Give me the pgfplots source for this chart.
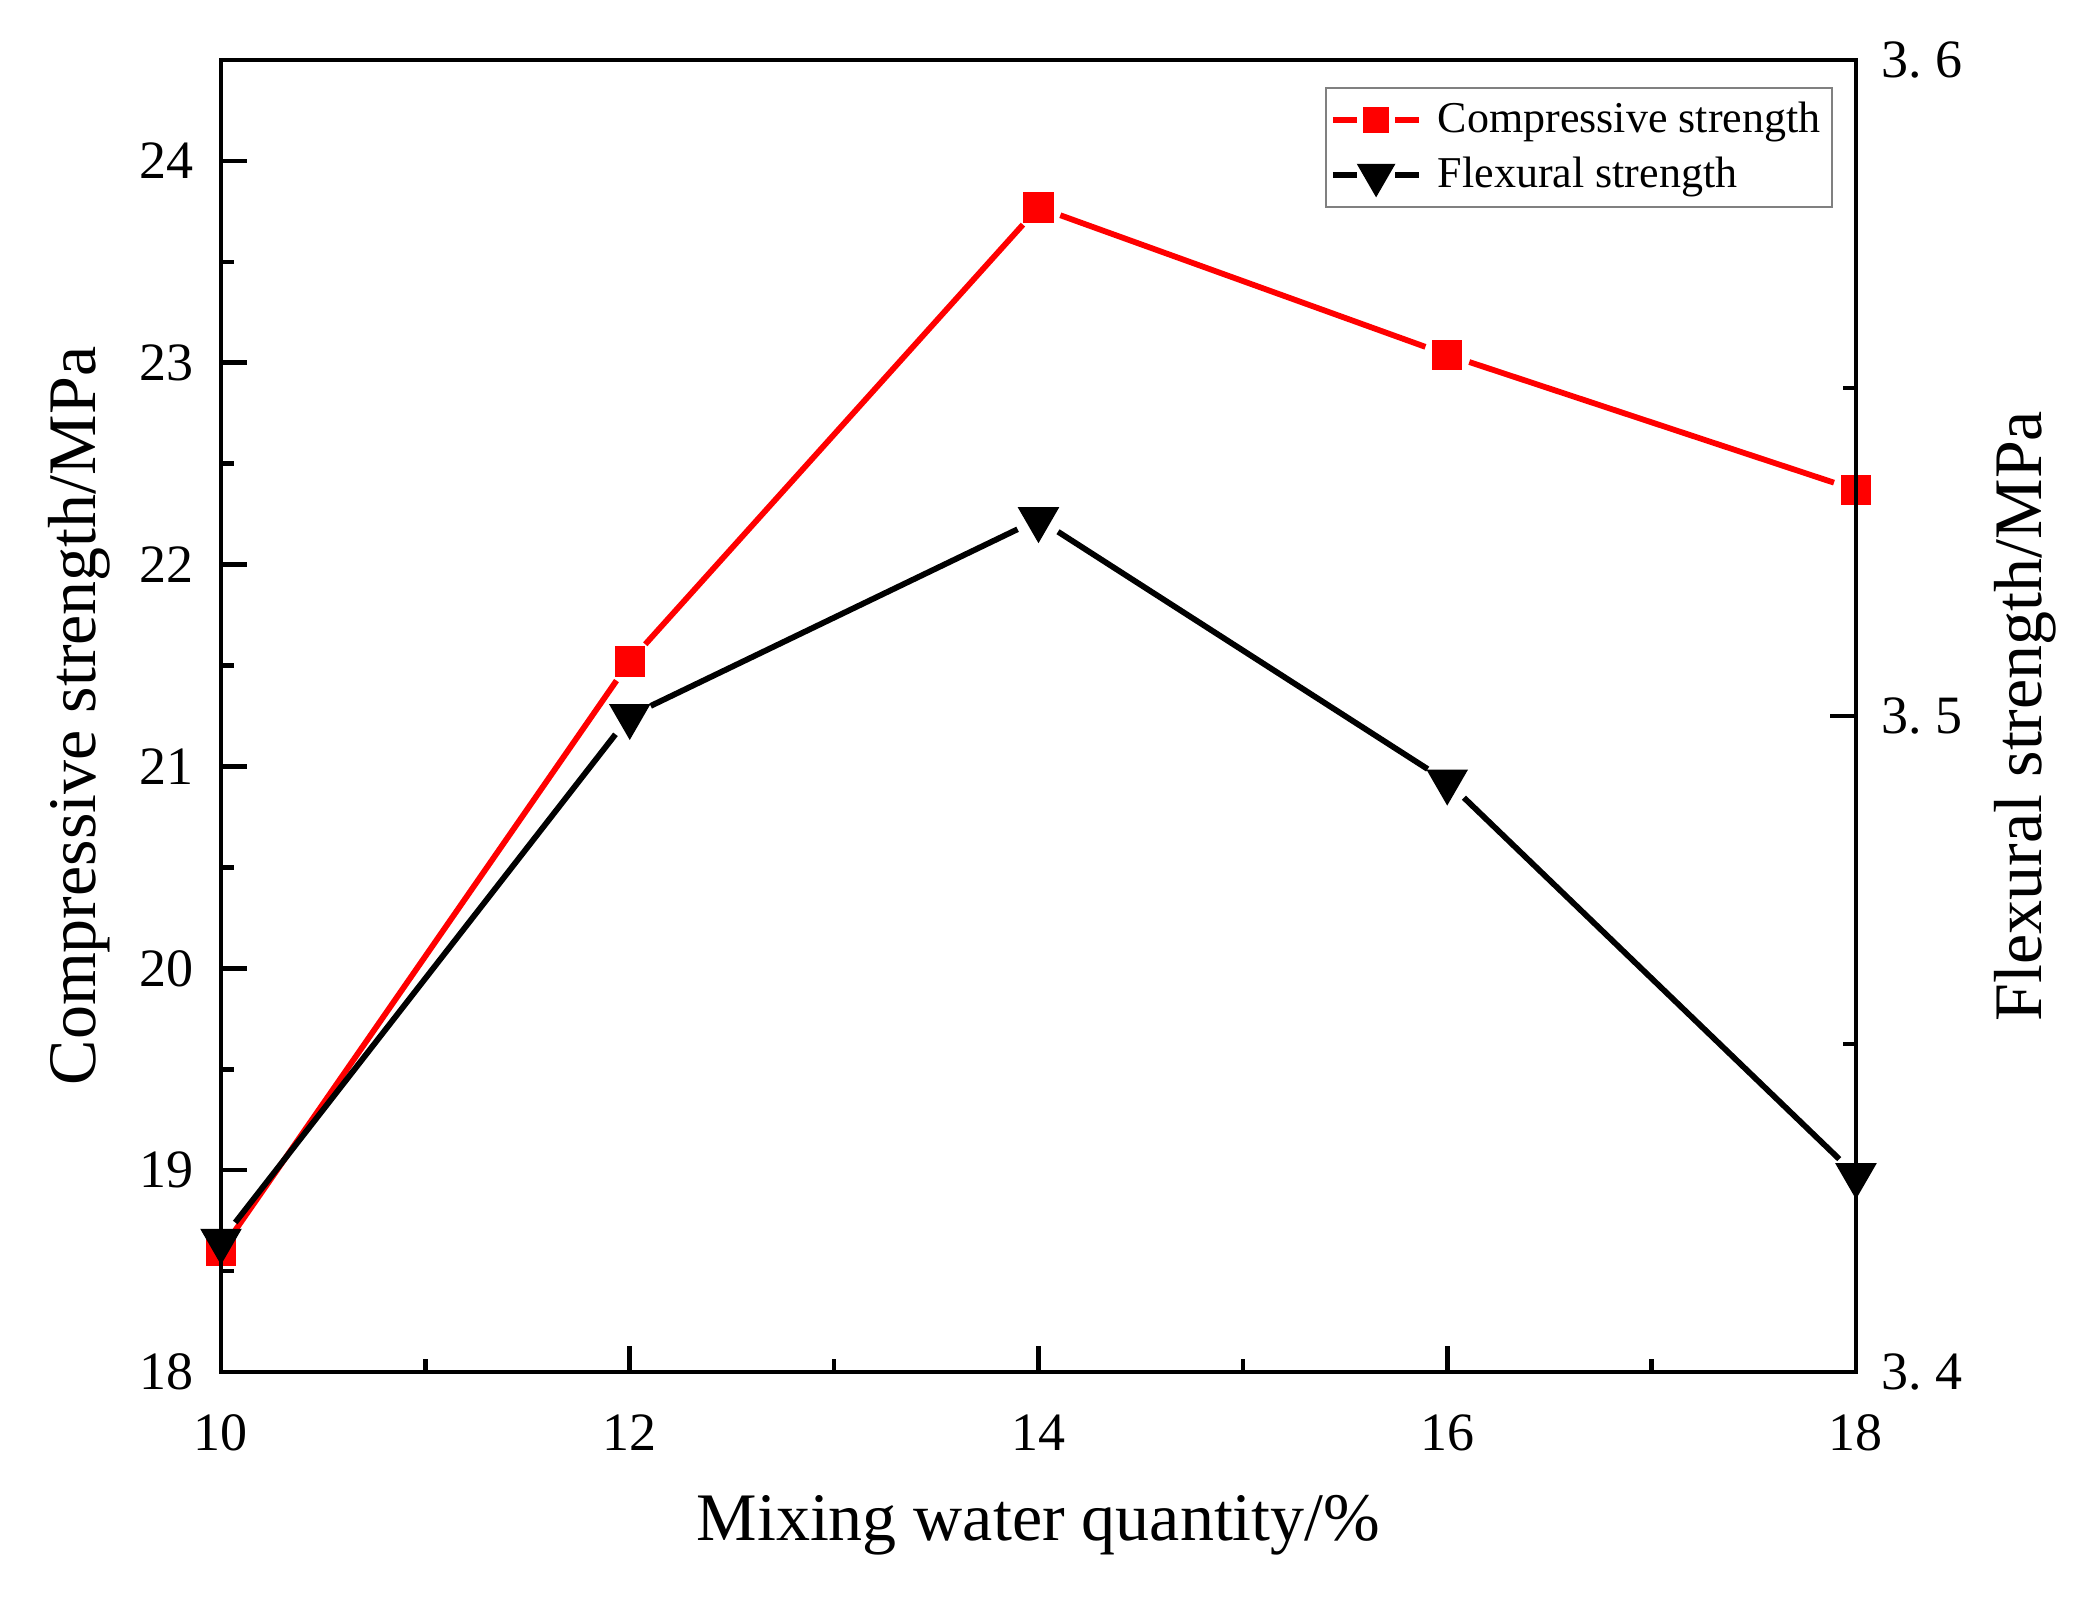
\documentclass[border=0pt]{standalone}
\usepackage{fontspec}
\setmainfont{Liberation Serif}
\usepackage{pgfplots}
\pgfplotsset{compat=1.18}
\usepackage{pgfplotstable}

\pgfplotstableread{
x y
10 18.60
12 21.52
14 23.77
16 23.04
18 22.37
}\comp
\pgfplotstableread{
x y
10 3.42
12 3.50
14 3.53
16 3.49
18 3.43
}\flex

\pgfplotsset{
  common/.style={
    at={(0,0)}, anchor=south west,
    scale only axis, width=408.75pt, height=328pt,
    xmin=10, xmax=18,
    tick align=inside,
    major tick length=6.5pt, minor tick length=3.2pt,
    every tick/.style={line width=1.15pt, black},
    axis line style={line width=1.15pt},
    /pgf/number format/assume math mode=true,
    tick label style={font=\fontsize{13.5}{16}\selectfont},
    label style={font=\fontsize{17}{20}\selectfont},
    clip=false,
  },
  gaplegend/.style={
    legend image code/.code={
      \draw[##1,mark=none] (0pt,0pt) -- (6pt,0pt);
      \draw[##1,mark=none] (15.6pt,0pt) -- (21.6pt,0pt);
      \draw[##1] plot[only marks] coordinates {(10.8pt,0pt)};
    }
  },
  seg/.style={line width=1.45pt, mark=none, shorten >=5.8pt, shorten <=5.8pt, forget plot},
}

\begin{document}
\begin{tikzpicture}
\useasboundingbox (-55.25pt,-57pt) rectangle (466.75pt,343pt);
\begin{axis}[common,
  ymin=18, ymax=24.5,
  xtick={10,12,14,16,18}, minor x tick num=1,
  ytick={18,19,20,21,22,23,24}, minor y tick num=1,
  xtick pos=bottom, ytick pos=left,
  xticklabel style={anchor=center, yshift=-15.2pt},
  yticklabel style={anchor=center, xshift=-13.6pt},
  xlabel={Mixing water quantity/\%},
  ylabel={Compressive strength/MPa},
  xlabel style={at={([yshift=-38.2pt]axis description cs:0.5,0)}, anchor=center},
  ylabel style={at={([xshift=-35.5pt]axis description cs:0,0.5)}, anchor=center},
]
\addplot[red, seg, restrict x to domain=10:12] table {\comp};
\addplot[red, seg, restrict x to domain=12:14] table {\comp};
\addplot[red, seg, restrict x to domain=14:16] table {\comp};
\addplot[red, seg, restrict x to domain=16:18] table {\comp};
\addplot[only marks, mark=square*, mark size=3.6pt, color=red, mark options={fill=red, draw=red}] table {\comp};
\end{axis}
\begin{axis}[common,
  ymin=3.4, ymax=3.6,
  hide x axis,
  ytick={3.4,3.5,3.6}, yticklabels={3.\ 4,3.\ 5,3.\ 6},
  minor y tick num=1,
  ytick pos=right, yticklabel pos=right,
  yticklabel style={anchor=center, xshift=16.5pt},
  ylabel={Flexural strength/MPa},
  ylabel style={at={([xshift=42.3pt]axis description cs:1,0.5)}, anchor=center},
  legend style={draw=gray, line width=0.5pt, at={(0.9862,0.9796)}, anchor=north east,
    font=\fontsize{11}{13}\selectfont, inner xsep=1pt, inner ysep=1.5pt,
    row sep=0.6pt, cells={anchor=west}},
  legend cell align=left,
]
\addlegendimage{gaplegend, color=red, line width=1.3pt, mark=square*, mark size=3pt, mark options={fill=red, draw=red, line width=0.4pt}}
\addlegendentry{\hspace{2pt}Compressive strength}
\addlegendimage{gaplegend, color=black, line width=1.3pt, mark=triangle*, mark size=5.2pt, mark options={rotate=180, fill=black, draw=black, line width=0.4pt}}
\addlegendentry{\hspace{2pt}Flexural strength}
\addplot[black, seg, restrict x to domain=10:12] table {\flex};
\addplot[black, seg, restrict x to domain=12:14] table {\flex};
\addplot[black, seg, restrict x to domain=14:16] table {\flex};
\addplot[black, seg, restrict x to domain=16:18] table {\flex};
\addplot[only marks, mark=triangle*, mark size=5.6pt, color=black, mark options={rotate=180, fill=black, draw=black, line width=0.4pt}, forget plot] table {\flex};
\end{axis}
\end{tikzpicture}
\end{document}
